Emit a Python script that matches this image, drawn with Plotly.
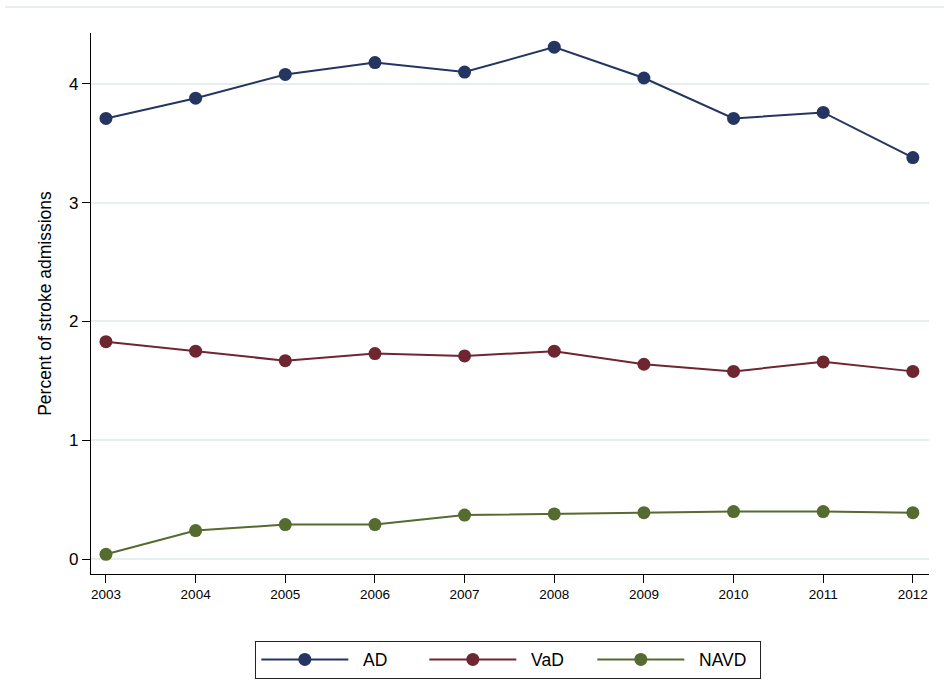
import plotly.graph_objects as go

years = [2003, 2004, 2005, 2006, 2007, 2008, 2009, 2010, 2011, 2012]
ad = [3.71, 3.88, 4.08, 4.18, 4.10, 4.31, 4.05, 3.71, 3.76, 3.38]
vad = [1.83, 1.75, 1.67, 1.73, 1.71, 1.75, 1.64, 1.58, 1.66, 1.58]
navd = [0.04, 0.24, 0.29, 0.29, 0.37, 0.38, 0.39, 0.40, 0.40, 0.39]

series = [
    ("AD", ad, "#233560"),
    ("VaD", vad, "#6e2630"),
    ("NAVD", navd, "#556b2f"),
]

fig = go.Figure()
for name, vals, color in series:
    fig.add_trace(go.Scatter(
        x=years, y=vals, name="\u00a0\u00a0" + name, mode="lines+markers",
        line=dict(color=color, width=2),
        marker=dict(color=color, size=13),
    ))

font_family = "Liberation Sans, Arial, sans-serif"

fig.update_layout(
    width=944, height=689,
    margin=dict(l=91, r=15, t=33, b=114),
    paper_bgcolor="white", plot_bgcolor="white",
    font=dict(family=font_family, color="black"),
    showlegend=True,
    legend=dict(
        orientation="h", x=0.498, xanchor="center", y=-0.121, yanchor="top",
        bordercolor="#222222", borderwidth=1,
        font=dict(size=17.5, family=font_family),
        itemwidth=87, entrywidth=66,
    ),
    xaxis=dict(
        range=[2002.833, 2012.18], tickmode="array", tickvals=years,
        ticktext=[str(y) for y in years],
        showgrid=False, zeroline=False,
        showline=True, linecolor="black", linewidth=1.3,
        ticks="outside", ticklen=8, tickcolor="black",
        tickfont=dict(size=13.5),
    ),
    yaxis=dict(
        range=[-0.126, 4.429], tickvals=[0, 1, 2, 3, 4],
        showgrid=True, gridcolor="#e6eef0", gridwidth=1.5, zeroline=False,
        showline=True, linecolor="black", linewidth=1.3,
        ticks="outside", ticklen=8, tickcolor="black",
        tickfont=dict(size=17),
        title=dict(text="Percent of stroke admissions", font=dict(size=17.5), standoff=12),
    ),
    shapes=[dict(
        type="line", xref="paper", yref="paper",
        x0=-0.1026, x1=1.02, y0=1.048, y1=1.048,
        line=dict(color="#e2eaec", width=1.5),
    )],
)

fig.write_html("out.html")
